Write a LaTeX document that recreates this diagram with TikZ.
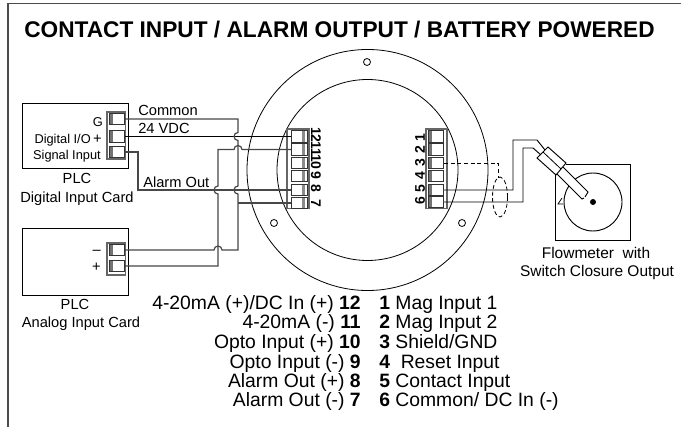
\documentclass[tikz,border=0pt]{standalone}
\usepackage{fontspec}
\setmainfont{Liberation Sans}
\tikzset{
    frameline/.style={line width=0.9pt, black!70},
    ringline/.style={line width=0.6pt, black},
    wire/.style={line width=0.9pt, black!72},
    blackwire/.style={line width=0.7pt, black},
    blockbox/.style={draw=black!60, line width=0.8pt},
    termbase/.style={draw=black!80, line width=0.6pt, inner sep=0pt, minimum width=11.6pt, minimum height=8.8pt},
    termwest/.style={termbase, path picture={
        \fill[black!55] (path picture bounding box.south west) rectangle ([xshift=3pt]path picture bounding box.north west);}},
    termeast/.style={termbase, path picture={
        \fill[black!45] ([xshift=-4pt]path picture bounding box.south east) rectangle ([xshift=-2pt]path picture bounding box.north east);}},
    smalltext/.style={font=\fontsize{11}{13}\selectfont, inner sep=0pt},
    cardtext/.style={font=\fontsize{9.6}{12}\selectfont, inner sep=0pt},
    flowtext/.style={font=\fontsize{11.6}{13}\selectfont, inner sep=0pt},
    pintext/.style={font=\fontsize{14.5}{16}\selectfont, inner sep=0pt},
    pinnum/.style={font=\fontsize{10.5}{12}\selectfont\bfseries, inner sep=0pt}
}
\begin{document}
\begin{tikzpicture}[x=0.75pt, y=-0.75pt]
    \pgfmathsetmacro{\xa}{238}
    \pgfmathsetmacro{\xb}{218}
    \pgfmathsetmacro{\r}{4}
    \useasboundingbox (0,0) rectangle (681,427);

    % frame and title
    \draw[frameline] (8,427) -- (8,3.5) -- (681,3.5);
    \node[anchor=base west, inner sep=0pt, font=\fontsize{17}{18}\selectfont\bfseries] (title) at (24,38)
        {CONTACT INPUT / ALARM OUTPUT / BATTERY POWERED};

    % meter rings
    \draw[ringline] (367.5,170) circle (120.5);
    \draw[ringline] (367.5,170) circle (90.5);
    \draw[ringline] (367,62) circle (3.5);
    \draw[ringline] (274,223) circle (3.5);
    \draw[ringline] (462,223) circle (3.5);

    % PLC cards
    \draw[line width=0.7pt] (22,103) rectangle (128,168);
    \draw[line width=0.7pt] (22,228) rectangle (128,295);
    \draw[blockbox] (107,112) rectangle (125.5,159);
    \draw[blockbox] (107,243) rectangle (125.5,275);
    \foreach \n/\y in {DG/119,DP/136.5,DS/152,AM/250,AP/266}
        \node[termwest, fill=white] (\n) at (117,\y) {};

    \node[cardtext, anchor=base east] (lblG) at (103,127) {G};
    \node[cardtext, anchor=base east] (lblIO) at (91,144) {Digital I/O};
    \node[smalltext, anchor=base east] (lblPlus) at (102,144) {+};
    \node[cardtext, anchor=base east] (lblSig) at (101,160) {Signal Input};
    \node[smalltext, anchor=base east] (lblMinus) at (101,255) {--};
    \node[smalltext, anchor=base east] (lblAPlus) at (101,272) {+};
    \node[smalltext, anchor=base] (plcA) at (77,184) {PLC};
    \node[smalltext, anchor=base] (cardA) at (77,203) {Digital Input Card};
    \node[smalltext, anchor=base] (plcB) at (75,310) {PLC};
    \node[smalltext, anchor=base] (cardB) at (81,328) {Analog Input Card};

    % meter terminals
    \draw[blockbox] (287,129) rectangle (309,208.5);
    \draw[blockbox] (426,129) rectangle (447,208.5);
    \foreach \n/\y in {12/136.5,11/149.5,10/163,9/176,8/190,7/203}
        \node[termeast, fill=white] (R\n) at (299.5,\y) {};
    \foreach \n/\y in {1/136.5,2/149.5,3/163,4/176,5/190,6/202}
        \node[termwest, fill=white] (L\n) at (436,\y) {};

    \foreach \n/\y in {12/135,11/148.5,10/162,9/175,8/188.5,7/203}
        \node[pinnum, rotate=-90] (numR\n) at (316,\y) {\n};
    \foreach \n/\y in {1/138,2/150,3/163,4/176,5/189,6/201}
        \node[pinnum, rotate=90] (numL\n) at (420,\y) {\n};

    % wiring to the cards
    \draw[blackwire] (DP.east) -- (R12.west);
    \draw[wire] (DG.east) -- (\xa,119) -- (\xa,136.5-\r)
        arc[start angle=270, end angle=90, radius=\r] -- (\xa,190-\r)
        arc[start angle=270, end angle=90, radius=\r] -- (\xa,250) -- (\xb+\r,250)
        arc[start angle=0, end angle=-180, radius=\r] -- (AM.east);
    \draw[wire] (R11.west) -- (\xa+\r,149.5)
        arc[start angle=0, end angle=-180, radius=\r] -- (\xb,149.5) -- (\xb,190-\r)
        arc[start angle=270, end angle=90, radius=\r] -- (\xb,266) -- (AP.east);
    \draw[wire] (DS.east) -- (138,152) -- (138,190) -- (R8.west);
    \draw[wire] (R7.west) -- (\xa,203);

    \node[smalltext, anchor=base west] (lblCom) at (138,116) {Common};
    \node[smalltext, anchor=base west] (lblVdc) at (138,134) {24 VDC};
    \node[smalltext, anchor=base west] (lblAlarm) at (143,188) {Alarm Out};

    % flowmeter
    \draw[line width=0.7pt] (566,164) -- (630,164) -- (630,240) -- (555,240) -- (555,175);
    \draw[line width=0.7pt] (593,202) circle (29);
    \fill (593,202) circle (3);
    \draw[line width=0.6pt] (562,198) -- (558,204) -- (563,204);

    \coordinate (fitTop) at (548,147);
    \coordinate (fitRight) at (566,163);
    \coordinate (fitBottom) at (556,175);
    \coordinate (fitLeft) at (537,158);
    \fill[white] (563,167) -- (588,192) -- (582,199) -- (557,174) -- cycle;
    \draw[line width=0.7pt] (563,167) -- (588,192) -- (585,197);
    \draw[line width=0.7pt] (557,174) -- (582,199) -- (584,198);
    \draw[line width=0.7pt, fill=white] (fitTop) -- (fitRight) -- (fitBottom) -- (fitLeft) -- cycle;
    \draw[line width=0.6pt] (543,152) -- (561,169);

    \draw[blackwire] (L5.east) -- (513,190) -- (513,140) -- (537,140) -- (545,150);
    \draw[blackwire] (L6.east) -- (523,202) -- (523,148) -- (533,148) -- (541,155);
    \draw[blackwire, dash pattern=on 3pt off 2pt] (L3.east) -- (498,163) -- (498,178);
    \draw[line width=0.6pt, dash pattern=on 3pt off 2pt] (500,197) ellipse[x radius=7.5, y radius=20];

    \node[flowtext, anchor=base] (flowA) at (596,259) {Flowmeter\ \ with};
    \node[flowtext, anchor=base] (flowB) at (597,277) {Switch Closure Output};

    % pin list
    \foreach \n/\y/\t in {12/309.5/{4-20mA (+)/DC In (+)},11/329/{4-20mA (-)},10/348/{Opto Input (+)},9/368/{Opto Input (-)},8/387/{Alarm Out (+)},7/406.5/{Alarm Out (-)}}
        \node[pintext, anchor=base east] (pinR\n) at (361,\y) {\t\ \textbf{\n}};
    \foreach \n/\y/\t in {1/309.5/{Mag Input 1},2/329/{Mag Input 2},3/348/{Shield/GND},4/368/{\ Reset Input},5/387/{Contact Input},6/406.5/{Common/ DC In (-)}}
        \node[pintext, anchor=base west] (pinL\n) at (379,\y) {\textbf{\n} \t};
\end{tikzpicture}
\end{document}
